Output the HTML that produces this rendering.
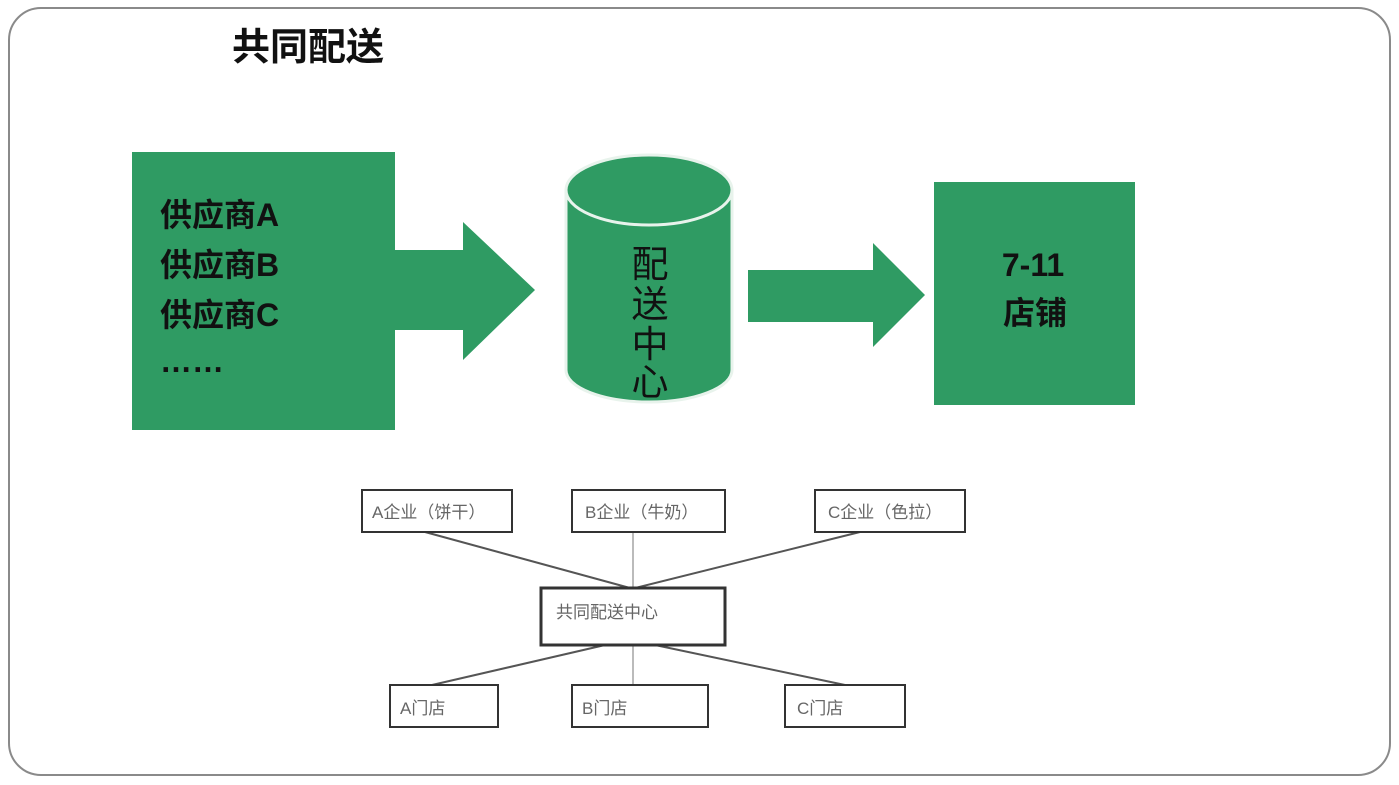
<!DOCTYPE html>
<html><head><meta charset="utf-8"><style>
body{margin:0;width:1399px;height:785px;background:#fff;overflow:hidden;font-family:"Liberation Sans","Noto Sans CJK SC",sans-serif}
</style></head><body>
<svg width="1399" height="785" xmlns="http://www.w3.org/2000/svg" style="position:absolute;left:0;top:0">
<rect x="9" y="8" width="1381" height="767" rx="32" fill="#fff" stroke="#8a8a8a" stroke-width="2"/>
<text x="232" y="60" font-size="38" font-weight="bold" fill="#111" font-family="Noto Sans CJK SC,sans-serif">共同配送</text>
<rect x="132" y="152" width="263" height="278" fill="#2f9b63"/>
<g font-family="Liberation Sans,Noto Sans CJK SC,sans-serif" font-size="32" font-weight="bold" fill="#111">
<text x="160" y="226">供应商A</text>
<text x="160" y="276">供应商B</text>
<text x="160" y="326">供应商C</text>
<text x="160" y="372">……</text>
</g>
<polygon points="395,250 463,250 463,222 535,290 463,360 463,330 395,330" fill="#2f9b63"/>
<path d="M566,190 L566,370 A83,32 0 0 0 732,370 L732,190 Z" fill="#2f9b63" stroke="#e8f3ec" stroke-width="3"/>
<ellipse cx="649" cy="190" rx="83" ry="35" fill="#2f9b63" stroke="#e8f3ec" stroke-width="3"/>
<g font-family="Noto Sans CJK SC,sans-serif" font-size="37" fill="#111" text-anchor="middle">
<text x="650" y="277">配</text><text x="650" y="317">送</text><text x="650" y="357">中</text><text x="650" y="395">心</text>
</g>
<polygon points="748,270 873,270 873,243 925,295 873,347 873,322 748,322" fill="#2f9b63"/>
<rect x="934" y="182" width="201" height="223" fill="#2f9b63"/>
<g font-family="Liberation Sans,Noto Sans CJK SC,sans-serif" font-size="32" font-weight="bold" fill="#111" text-anchor="middle">
<text x="1033" y="276">7-11</text><text x="1035" y="324">店铺</text>
</g>
<g stroke="#555" stroke-width="2">
<line x1="425" y1="532" x2="630" y2="588"/>
<line x1="860" y1="532" x2="635" y2="588"/>
<line x1="605" y1="645" x2="432" y2="685"/>
<line x1="655" y1="645" x2="845" y2="685"/>
</g>
<g stroke="#bbb" stroke-width="2">
<line x1="633" y1="532" x2="633" y2="588"/>
<line x1="633" y1="645" x2="633" y2="685"/>
</g>
<g fill="#fff" stroke="#333" stroke-width="2">
<rect x="362" y="490" width="150" height="42"/>
<rect x="572" y="490" width="153" height="42"/>
<rect x="815" y="490" width="150" height="42"/>
<rect x="541" y="588" width="184" height="57" stroke-width="3"/>
<rect x="390" y="685" width="108" height="42"/>
<rect x="572" y="685" width="136" height="42"/>
<rect x="785" y="685" width="120" height="42"/>
</g>
<g font-family="Liberation Sans,Noto Sans CJK SC,sans-serif" font-size="17" fill="#666">
<text x="372" y="518">A企业（饼干）</text>
<text x="585" y="518">B企业（牛奶）</text>
<text x="828" y="518">C企业（色拉）</text>
<text x="556" y="618">共同配送中心</text>
<text x="400" y="714">A门店</text>
<text x="582" y="714">B门店</text>
<text x="797" y="714">C门店</text>
</g>
</svg>
</body></html>
